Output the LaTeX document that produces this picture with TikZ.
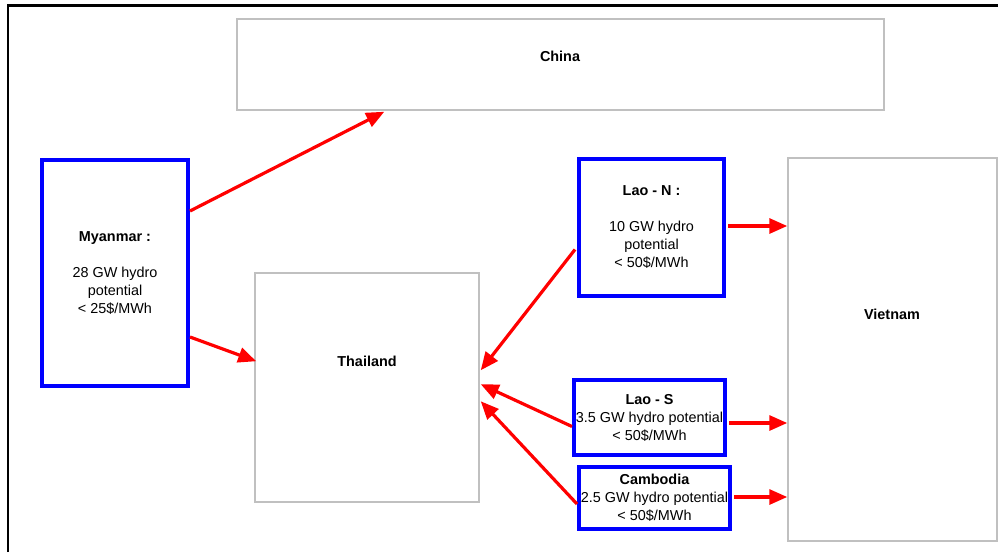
\documentclass[tikz,border=0pt]{standalone}
\usepackage{fontspec}
\setmainfont{Liberation Sans}
\usetikzlibrary{arrows.meta,calc}
\definecolor{boxgray}{RGB}{192,192,192}
\tikzset{
  graybox/.style={draw=boxgray,line width=1.5pt,fill=white,rectangle,inner sep=0pt},
  bluebox/.style={draw=blue,line width=4pt,fill=white,rectangle,inner sep=0pt,align=center,
    font=\fontsize{14.4}{18}\selectfont},
  txt/.style={font=\fontsize{14.4}{18}\selectfont\bfseries,inner sep=0pt},
  flow/.style={draw=red,line width=3.2pt,-{Triangle[length=18pt,width=15pt]},shorten >=0pt}
}
\begin{document}
\begin{tikzpicture}[x=1pt,y=-1pt]
\useasboundingbox (0,0) rectangle (998,552);
\fill[white] (0,0) rectangle (998,552);
% outer frame (clipped)
\draw[line width=2.2pt,black] (7.8,552) -- (7.8,5.5) -- (998,5.5);

\node[graybox,minimum width=647pt,minimum height=91pt] (china) at (560.5,64.5) {};
\node[txt] (chinat) at (560,56) {China};
\node[graybox,minimum width=224pt,minimum height=229pt] (thai) at (367,387.5) {};
\node[txt] (thait) at (367,361) {Thailand};
\node[graybox,minimum width=209pt,minimum height=383pt] (viet) at (892.5,349.5) {};
\node[txt] (vietT) at (892,314) {Vietnam};

\node[bluebox,minimum width=146pt,minimum height=226pt] (myan) at (115,273)
  {\textbf{Myanmar :}\\[18pt]28 GW hydro\\potential\\< 25\$/MWh};
\node[bluebox,minimum width=145pt,minimum height=137pt] (laon) at (651.5,227.5)
  {\textbf{Lao - N :}\\[18pt]10 GW hydro\\potential\\ < 50\$/MWh};
\node[bluebox,minimum width=151pt,minimum height=75pt] (laos) at (649.5,417.5)
  {\textbf{Lao - S}\\3.5 GW hydro potential\\< 50\$/MWh};
\node[bluebox,minimum width=151pt,minimum height=62pt] (camb) at (654.5,498)
  {\textbf{Cambodia}\\2.5 GW hydro potential\\< 50\$/MWh};

\coordinate (chinaIn) at ($(china.south west)+(148,1)$);
\coordinate (thaiA) at ($(thai.north east)+(1,98)$);
\coordinate (thaiB) at ($(thai.north east)+(1,112)$);
\coordinate (thaiC) at ($(thai.north east)+(1,129)$);

\draw[flow] ([yshift=62pt]myan.east) -- (chinaIn);
\draw[flow] ([yshift=-64pt]myan.east) -- ($(thai.north west)+(2,89)$);
\draw[flow] ([xshift=-2pt,yshift=-22pt]laon.west) -- (thaiA);
\draw[flow] ([yshift=-9pt]laos.west) -- (thaiB);
\draw[flow] ([yshift=-6pt]camb.west) -- (thaiC);
\draw[flow] ([xshift=2pt,yshift=1.5pt]laon.east) -- ([yshift=1.5pt]laon.east -| viet.west);
\draw[flow] ([xshift=2pt,yshift=-5.5pt]laos.east) -- ([yshift=-5.5pt]laos.east -| viet.west);
\draw[flow] ([xshift=2pt,yshift=1pt]camb.east) -- ([yshift=1pt]camb.east -| viet.west);
\end{tikzpicture}
\end{document}
